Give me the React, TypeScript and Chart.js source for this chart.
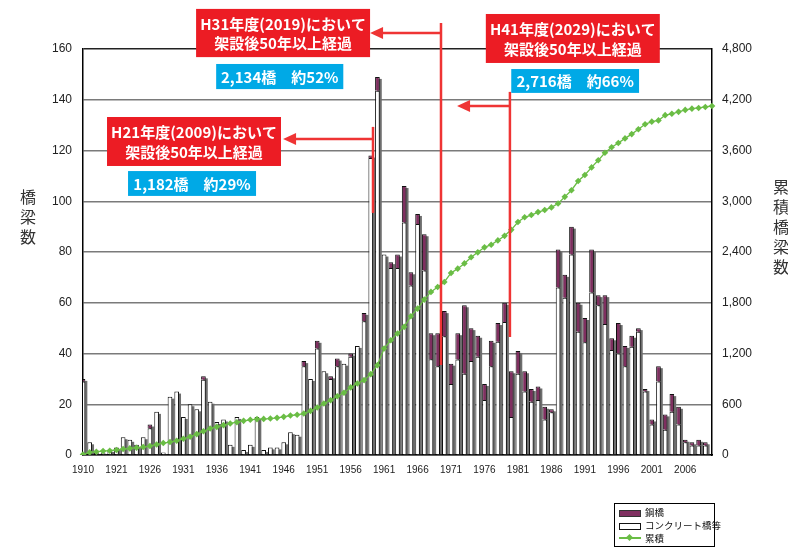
import React, { useEffect, useRef } from 'react';
import { Chart, registerables } from 'chart.js';

Chart.register(...registerables);

// Category labels (fiscal year of construction)
const YEARS = [
  '1910', '1917', '1918', '1919', '1920', '1921', '1922', '1923', '1924', '1925',
  '1926', '1927', '1928', '1929', '1930', '1931', '1932', '1933', '1934', '1935',
  '1936', '1937', '1938', '1939', '1940', '1941', '1942', '1943', '1944', '1945',
  '1946', '1947', '1948', '1949', '1950', '1951', '1952', '1953', '1954', '1955',
  '1956', '1957', '1958', '1959', '1960', '1961', '1962', '1963', '1964', '1965',
  '1966', '1967', '1968', '1969', '1970', '1971', '1972', '1973', '1974', '1975',
  '1976', '1977', '1978', '1979', '1980', '1981', '1982', '1983', '1984', '1985',
  '1986', '1987', '1988', '1989', '1990', '1991', '1992', '1993', '1994', '1995',
  '1996', '1997', '1998', '1999', '2000', '2001', '2002', '2003', '2004', '2005',
  '2006', '2007', '2008', '2009', '2010',
];

// コンクリート橋等 (bridges)
const CONCRETE = [
  29, 5, 1, 1, 2, 3, 7, 6, 4, 7,
  10.5, 17, 1, 23, 25, 15, 20, 18, 29.7, 21,
  13, 14, 4, 15, 2, 4, 15, 2, 3, 3,
  5, 9, 8, 35, 30, 42, 33, 30, 35, 36,
  38.7, 43, 52.7, 117, 143.5, 79, 73.7, 73.7, 91.6, 66.8,
  91, 72.7, 37.7, 35, 46.8, 28, 37.6, 32, 37, 38.7,
  21.7, 35, 44.6, 52.4, 15, 32, 25, 21, 21.7, 14,
  16.8, 66, 62, 79, 48.6, 44.4, 64, 59, 51.6, 41.4,
  40, 35, 42.7, 48.6, 25, 12, 29, 10, 17, 12,
  5, 3.7, 3.7, 3.7, 0,
];

// 鋼橋 (bridges)
const STEEL = [
  1, 0, 0, 0, 0, 0, 0, 0, 0, 0,
  1.5, 0, 0, 0, 0, 0, 0, 0, 1.3, 0,
  0, 0, 0, 0, 0, 0, 0, 0, 0, 0,
  0, 0, 0, 2, 0, 3, 0, 1, 3, 0,
  1.3, 0, 3.3, 1, 5.5, 0, 2.3, 5.3, 14.4, 5.2,
  4, 14.3, 10.3, 13, 9.9, 8, 10.4, 27, 13, 8.3,
  6.3, 10, 7.4, 7.6, 18, 9, 8, 5, 5.3, 5,
  1.2, 15, 9, 11, 11.4, 9.6, 17, 4, 11.4, 4.6,
  12, 8, 4.3, 1.4, 1, 2, 6, 6, 7, 7,
  1, 1.3, 2.3, 1.3, 0,
];

// 累積 (right axis)
const CUMULATIVE = [
  5, 31, 39, 47, 51, 59, 71, 78, 86, 94,
  106, 125, 141, 153, 169, 192, 216, 247, 280, 314,
  333, 353, 373, 388, 404, 416, 424, 427, 431, 439,
  451, 467, 475, 490, 522, 561, 608, 647, 694, 736,
  799, 846, 885, 956, 1062, 1259, 1357, 1436, 1515, 1641,
  1731, 1837, 1928, 1987, 2046, 2152, 2203, 2265, 2338, 2396,
  2455, 2486, 2537, 2591, 2662, 2755, 2810, 2837, 2872, 2896,
  2927, 2974, 3052, 3130, 3239, 3310, 3400, 3484, 3573, 3639,
  3689, 3743, 3794, 3852, 3910, 3941, 3956, 4018, 4034, 4057,
  4080, 4095, 4103, 4115, 4126,
];

const CALLOUT_TITLES = [
  ['H21年度(2009)において', '架設後50年以上経過'],
  ['H31年度(2019)において', '架設後50年以上経過'],
  ['H41年度(2029)において', '架設後50年以上経過'],
];
const CALLOUT_COUNTS = ['1,182橋　約29%', '2,134橋　約52%', '2,716橋　約66%'];

// Callout geometry in axis units (x: category index, y: left-axis value)
const CALLOUT_LAYOUT = [
  { line: 43.34, lineTop: 129.3, lineBottom: 95.4, arrowY: 124.5, tip: 29.9, box: [3.59, 29.59, 133.2, 113.9], blue: [6.73, 25.86, 111.9, 102.1] },
  { line: 53.5, lineTop: 170.2, lineBottom: 35.5, arrowY: 166.3, tip: 42.9, box: [16.9, 42.9, 175.8, 156.8], blue: [19.9, 38.9, 154.1, 144.2] },
  { line: 63.8, lineTop: 143.1, lineBottom: 46.5, arrowY: 137.5, tip: 55.9, box: [60.2, 86.2, 173.8, 154.5], blue: [64.0, 83.1, 152.1, 142.7] },
];

const STEEL_COLOR = '#7f2f60';
const GREEN = '#6abd45';
const RED_LINE = '#ef3434';
const RED_BOX = '#ec1c24';
const BLUE_BOX = '#00a9e6';
const CJK = '"Noto Sans CJK JP", "Noto Sans", sans-serif';

const shadowPlugin = {
  id: 'barShadow',
  beforeDatasetsDraw(chart: any) {
    const ctx = chart.ctx;
    const area = chart.chartArea;
    const mc = chart.getDatasetMeta(1);
    const ms = chart.getDatasetMeta(2);
    ctx.save();
    ctx.beginPath();
    ctx.rect(area.left, area.top, area.right - area.left, area.bottom - area.top);
    ctx.clip();
    ctx.fillStyle = '#6e6e6e';
    mc.data.forEach((el: any, i: number) => {
      const p = el.getProps(['x', 'y', 'base', 'width'], true);
      const s = ms.data[i].getProps(['y'], true);
      const top = Math.min(p.y, s.y);
      const h = p.base - top;
      if (h < 0.5) return;
      ctx.fillRect(p.x - p.width / 2 + 2, top + 2, p.width, h - 2);
    });
    ctx.restore();
  },
};

const calloutPlugin = {
  id: 'callouts',
  afterDraw(chart: any) {
    const ctx = chart.ctx;
    const xs = chart.scales.x;
    const ys = chart.scales.y;
    const X = (v: number) => xs.getPixelForValue(v);
    const Y = (v: number) => ys.getPixelForValue(v);
    ctx.save();
    CALLOUT_LAYOUT.forEach((a, k) => {
      const lx = X(a.line);
      const ay = Y(a.arrowY);
      const tip = X(a.tip);
      ctx.strokeStyle = RED_LINE;
      ctx.lineWidth = 2.5;
      ctx.beginPath();
      ctx.moveTo(lx, Y(a.lineTop));
      ctx.lineTo(lx, Y(a.lineBottom));
      ctx.stroke();
      ctx.beginPath();
      ctx.moveTo(lx, ay);
      ctx.lineTo(tip + 10, ay);
      ctx.stroke();
      ctx.fillStyle = RED_LINE;
      ctx.beginPath();
      ctx.moveTo(tip, ay);
      ctx.lineTo(tip + 13, ay - 6);
      ctx.lineTo(tip + 13, ay + 6);
      ctx.closePath();
      ctx.fill();

      const [l, r, t, b] = a.box;
      const bx = X(l), bw = X(r) - X(l), by = Y(t), bh = Y(b) - Y(t);
      ctx.fillStyle = RED_BOX;
      ctx.fillRect(bx, by, bw, bh);
      ctx.fillStyle = '#ffffff';
      ctx.font = `bold 15px ${CJK}`;
      ctx.textAlign = 'center';
      ctx.textBaseline = 'middle';
      const cx = bx + bw / 2;
      ctx.fillText(CALLOUT_TITLES[k][0], cx, by + bh * 0.31);
      ctx.fillText(CALLOUT_TITLES[k][1], cx, by + bh * 0.72);

      const [bl, br, bt, bb] = a.blue;
      const ux = X(bl), uw = X(br) - X(bl), uy = Y(bt), uh = Y(bb) - Y(bt);
      ctx.fillStyle = BLUE_BOX;
      ctx.fillRect(ux, uy, uw, uh);
      ctx.fillStyle = '#ffffff';
      ctx.fillText(CALLOUT_COUNTS[k], ux + uw / 2, uy + uh / 2 + 0.5);
    });
    ctx.restore();
  },
};

export default function App() {
  const ref = useRef<HTMLCanvasElement | null>(null);

  useEffect(() => {
    if (!ref.current) return;
    Chart.defaults.font.family = '"Liberation Sans", Arial, sans-serif';
    const chart = new Chart(ref.current, {
      type: 'bar',
      data: {
        labels: YEARS,
        datasets: [
          {
            type: 'line',
            label: '累積',
            data: CUMULATIVE,
            yAxisID: 'y1',
            borderColor: GREEN,
            backgroundColor: GREEN,
            borderWidth: 1.3,
            pointStyle: 'rectRot',
            pointRadius: 3.3,
            pointBorderWidth: 0,
            order: 0,
          } as any,
          {
            label: 'コンクリート橋等',
            data: CONCRETE,
            yAxisID: 'y',
            stack: 's',
            backgroundColor: '#ffffff',
            borderColor: '#111111',
            borderWidth: 1,
            order: 1,
          },
          {
            label: '鋼橋',
            data: STEEL,
            yAxisID: 'y',
            stack: 's',
            backgroundColor: STEEL_COLOR,
            borderColor: '#111111',
            borderWidth: 1,
            order: 1,
          },
        ],
      },
      options: {
        responsive: false,
        animation: false,
        devicePixelRatio: 1,
        layout: { padding: { top: 49, left: 0, right: 0, bottom: 0 } },
        datasets: { bar: { barPercentage: 0.7, categoryPercentage: 1 } },
        plugins: { legend: { display: false }, tooltip: { enabled: false } },
        scales: {
          x: {
            stacked: true,
            offset: false,
            grid: { display: false, drawTicks: false },
            border: { display: true, color: '#000', width: 1.5 },
            ticks: {
              autoSkip: false,
              maxRotation: 0,
              minRotation: 0,
              color: '#222',
              font: { size: 10 },
              padding: 9,
              callback: (_v: any, i: number) => (i % 5 === 0 ? YEARS[i] : ''),
            },
            afterFit: (s: any) => { s.height = 93; },
          },
          y: {
            stacked: true,
            position: 'left',
            min: 0,
            max: 160,
            ticks: { stepSize: 20, color: '#222', font: { size: 12 }, padding: 11 },
            grid: {
              drawTicks: false,
              lineWidth: 1.5,
              color: (c: any) => (c.tick && c.tick.value === 160 ? '#222' : '#7a7a7a'),
            },
            border: { display: true, color: '#000', width: 1.5 },
            afterFit: (s: any) => { s.width = 83; },
          },
          y1: {
            position: 'right',
            min: 0,
            max: 4800,
            ticks: {
              stepSize: 600,
              color: '#222',
              font: { size: 12 },
              padding: 10,
              callback: (v: any) => Number(v).toLocaleString('en-US'),
            },
            grid: { display: false, drawTicks: false },
            border: { display: true, color: '#000', width: 1.5 },
            afterFit: (s: any) => { s.width = 76; },
          },
        },
      } as any,
      plugins: [shadowPlugin, calloutPlugin],
    });
    return () => chart.destroy();
  }, []);

  const titleStyle: React.CSSProperties = {
    position: 'absolute',
    writingMode: 'vertical-rl',
    fontFamily: CJK,
    fontSize: 16,
    letterSpacing: 4,
    color: '#333',
    lineHeight: 1,
  };

  const row: React.CSSProperties = {
    position: 'absolute',
    left: 30,
    fontFamily: CJK,
    fontSize: 9.5,
    color: '#111',
    lineHeight: 1,
    whiteSpace: 'nowrap',
  };

  return (
    <div style={{ position: 'absolute', left: 0, top: 0, width: 788, height: 548, background: '#fff', overflow: 'hidden' }}>
      <canvas ref={ref} width={788} height={548} style={{ display: 'block', width: 788, height: 548 }} />
      <div style={{ ...titleStyle, left: 20, top: 189 }}>橋梁数</div>
      <div style={{ ...titleStyle, left: 773, top: 179 }}>累積橋梁数</div>
      <div style={{ position: 'absolute', left: 614, top: 503, width: 99, height: 42, border: '1px solid #000', background: '#fff' }}>
        <div style={{ position: 'absolute', left: 4, top: 6, width: 20, height: 5, background: STEEL_COLOR, border: '1px solid #333' }} />
        <div style={{ ...row, top: 4 }}>鋼橋</div>
        <div style={{ position: 'absolute', left: 4, top: 19, width: 20, height: 5, background: '#fff', border: '1px solid #111' }} />
        <div style={{ ...row, top: 17 }}>コンクリート橋等</div>
        <div style={{ position: 'absolute', left: 4, top: 33, width: 22, height: 1.5, background: GREEN }} />
        <div style={{ position: 'absolute', left: 12, top: 30.5, width: 5, height: 5, background: GREEN, transform: 'rotate(45deg)' }} />
        <div style={{ ...row, top: 30 }}>累積</div>
      </div>
    </div>
  );
}
